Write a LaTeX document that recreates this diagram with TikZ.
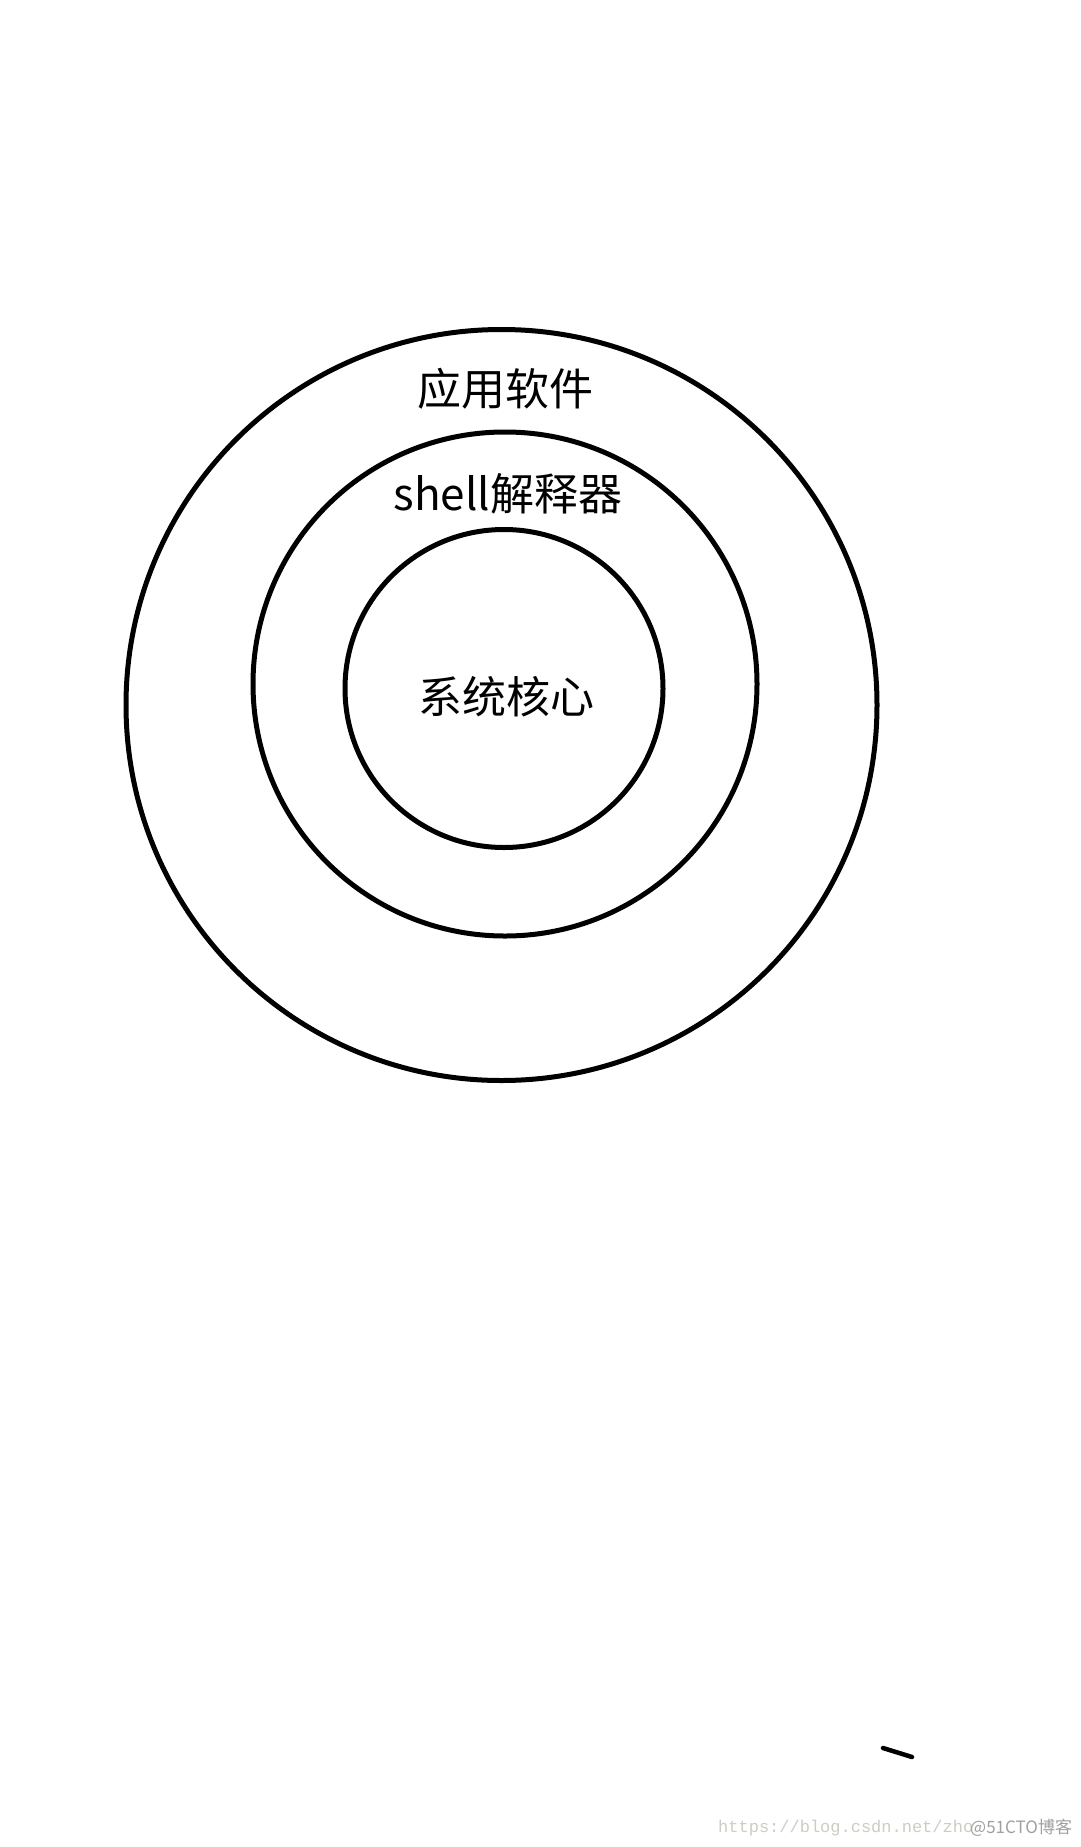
\documentclass[tikz,border=0pt]{standalone}
\usepackage{fontspec}
\setmainfont{Noto Sans CJK SC}
\newfontfamily\wmmono{Liberation Mono}
\usetikzlibrary{positioning}
\definecolor{wmlight}{RGB}{205,205,195}
\definecolor{wmdark}{RGB}{160,160,160}
\tikzstyle{ring} = [circle, draw=black, line width=5pt, inner sep=0pt]
\tikzstyle{layer} = [inner sep=0pt, font=\fontsize{44}{50}\selectfont]
\tikzstyle{watermark} = [inner sep=0pt, anchor=west]

\begin{document}
\begin{tikzpicture}[x=1pt, y=-1pt]
\useasboundingbox[fill=white] (0,0) rectangle (1080,1847);
% Rings
\node (apps) [ring, minimum size=751pt] at (501.5,705) {};
\node (shell) [ring, minimum size=504pt] at (505,684) {};
\node (kernel) [ring, minimum size=318pt] at (504,688.5) {};

% Labels
\node (appslabel) [layer] at (505,389) {应用软件};
\node (shelllabel) [layer] at (508,494) {shell解释器};
\node (kernellabel) [layer] at (506,697) {系统核心};

% Stray pen mark
\draw[line width=4.5pt, line cap=round] (883,1748) -- (912,1757);

% Watermark
\node (csdn) [watermark, text=wmlight, font=\wmmono\fontsize{17}{17}\selectfont] at (718,1828) {https://blog.csdn.net/zho};
\node (cto) [watermark, text=wmdark, font=\fontsize{17}{17}\selectfont] at (970,1828) {@51CTO博客};
\end{tikzpicture}
\end{document}
